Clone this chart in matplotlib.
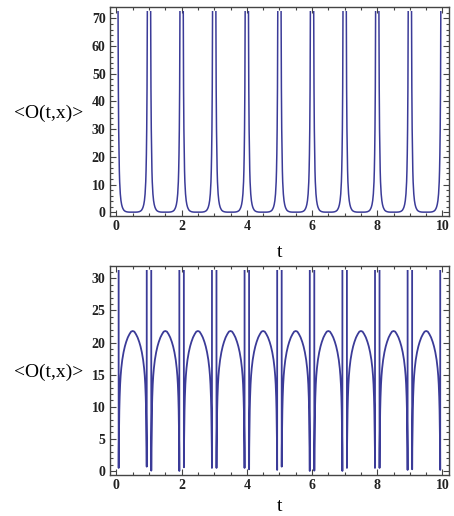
import numpy as np
import matplotlib
matplotlib.use("Agg")
import matplotlib.pyplot as plt
from matplotlib.patches import Rectangle
from matplotlib.ticker import MultipleLocator

# periods start at these t values
periods = [0, 1, 2, 3, 4, 5, 6, 7, 8, 9]

# upper panel: one period of the U shaped curve
top_offset = [0.03, 0.05, 0.06, 0.07, 0.08, 0.09, 0.10, 0.11, 0.12, 0.14,
              0.16, 0.18, 0.20, 0.23, 0.26, 0.30, 0.35, 0.40, 0.50,
              0.60, 0.65, 0.70, 0.74, 0.77, 0.80, 0.82, 0.84, 0.86,
              0.88, 0.89, 0.90, 0.91, 0.92, 0.93, 0.94, 0.95, 0.97]
top_value = [200.0, 75.0, 45.0, 30.0, 21.0, 15.0, 11.0, 8.5, 6.6, 4.2,
             2.8, 1.9, 1.3, 0.7, 0.4, 0.18, 0.06, 0.02, 0.0,
             0.02, 0.06, 0.18, 0.4, 0.7, 1.3, 1.9, 2.8, 4.2,
             6.6, 8.5, 11.0, 15.0, 21.0, 30.0, 45.0, 75.0, 200.0]
top_clip = 72.6

# lower panel: one period of the arch, dips filled in per period below
bot_offset = [0.068, 0.070, 0.073, 0.080, 0.090, 0.100, 0.115, 0.13, 0.15,
              0.18, 0.22, 0.26, 0.30, 0.35, 0.40, 0.45, 0.50,
              0.55, 0.60, 0.65, 0.70, 0.74, 0.78, 0.82, 0.85, 0.87,
              0.885, 0.900, 0.910, 0.920, 0.927, 0.930, 0.932]
bot_value = [60.0, None, 3.5, 6.5, 9.5, 11.5, 13.5, 14.8, 16.0,
             17.3, 18.5, 19.4, 20.1, 20.8, 21.3, 21.7, 21.8,
             21.7, 21.3, 20.8, 20.1, 19.4, 18.5, 17.3, 16.0, 14.8,
             13.5, 11.5, 9.5, 6.5, 3.5, None, 60.0]
dip_left = [0.47, 0.05, 0.57, 0.47, 0.26, 0.67, 0.05, 0.47, 0.47, 0.26]
dip_right = [0.67, 0.0, 0.47, 0.47, 0.16, 0.0, 0.0, 0.47, 0.16, 0.16]
bot_clip = 31.3

line_color = "#3b3b98"
frame_color = "#444444"
serif = ["Liberation Serif", "DejaVu Serif"]

t_top = np.concatenate([n + np.array(top_offset) for n in periods])
y_top = np.concatenate([np.array(top_value) for n in periods])

t_bot, y_bot = [], []
for i, n in enumerate(periods):
    vals = list(bot_value)
    vals[1] = dip_left[i]
    vals[-2] = dip_right[i]
    t_bot.append(n + np.array(bot_offset))
    y_bot.append(np.array(vals, dtype=float))
t_bot = np.concatenate(t_bot)
y_bot = np.concatenate(y_bot)

fig = plt.figure(figsize=(4.54, 5.16), dpi=100)
ax1 = fig.add_axes([0.242, 0.581, 0.747, 0.405])
ax2 = fig.add_axes([0.242, 0.0795, 0.747, 0.405])


def style(ax, ymax, major, minor, xpad):
    pad = 0.02 * ymax
    ax.set_xlim(-0.2, 10.2)
    ax.set_ylim(-pad, ymax + pad)
    ax.xaxis.set_major_locator(MultipleLocator(2))
    ax.xaxis.set_minor_locator(MultipleLocator(0.5))
    ax.yaxis.set_major_locator(MultipleLocator(major))
    ax.yaxis.set_minor_locator(MultipleLocator(minor))
    ax.tick_params(which="both", direction="in", top=True, right=True,
                   color=frame_color, width=0.8)
    ax.tick_params(which="major", length=4, labelsize=10, pad=3)
    ax.tick_params(which="minor", length=2)
    for lab in ax.get_xticklabels() + ax.get_yticklabels():
        lab.set_family(serif)
        lab.set_fontweight("bold")
        lab.set_color("#222222")
    for sp in ax.spines.values():
        sp.set_color(frame_color)
        sp.set_linewidth(1.0)
    ax.set_xlabel("t", family=serif, fontsize=14, labelpad=xpad)
    ax.set_ylabel("<O(t,x)>", family=serif, fontsize=14, rotation=0,
                  ha="center", va="center")
    ax.yaxis.set_label_coords(-0.18, 0.49)


line1, = ax1.plot(t_top, y_top, color=line_color, lw=1.1)
line1.set_clip_path(Rectangle((-0.2, -5), 10.4, top_clip + 5,
                              transform=ax1.transData))
style(ax1, top_clip, 10, 2, 8)

line2, = ax2.plot(t_bot, y_bot, color=line_color, lw=1.3)
line2.set_clip_path(Rectangle((-0.2, -5), 10.4, bot_clip + 5,
                              transform=ax2.transData))
style(ax2, bot_clip, 5, 1, 4)

fig.savefig("out.png", dpi=100)
